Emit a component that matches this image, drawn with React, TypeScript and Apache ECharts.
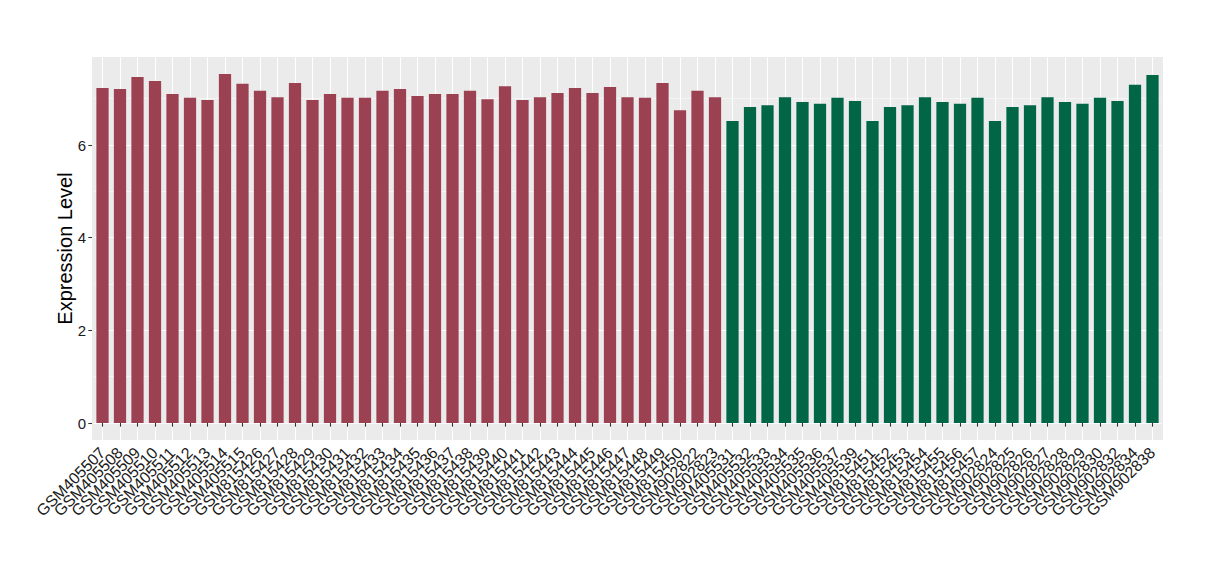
import React, { useEffect, useRef } from "react";
import * as echarts from "echarts";

const redSamples = [
  "GSM405507", "GSM405508", "GSM405509", "GSM405510", "GSM405511", "GSM405512",
  "GSM405513", "GSM405514", "GSM405515", "GSM815426", "GSM815427", "GSM815428",
  "GSM815429", "GSM815430", "GSM815431", "GSM815432", "GSM815433", "GSM815434",
  "GSM815435", "GSM815436", "GSM815437", "GSM815438", "GSM815439", "GSM815440",
  "GSM815441", "GSM815442", "GSM815443", "GSM815444", "GSM815445", "GSM815446",
  "GSM815447", "GSM815448", "GSM815449", "GSM815450", "GSM902822", "GSM902823",
];
const redValues = [
  7.23, 7.21, 7.47, 7.38, 7.10, 7.02, 6.97, 7.53, 7.32, 7.17, 7.03, 7.34,
  6.97, 7.10, 7.02, 7.02, 7.17, 7.21, 7.06, 7.10, 7.10, 7.17, 6.99, 7.27,
  6.97, 7.03, 7.12, 7.23, 7.12, 7.25, 7.03, 7.02, 7.34, 6.75, 7.17, 7.03,
];
const greenSamples = [
  "GSM405531", "GSM405532", "GSM405533", "GSM405534", "GSM405535", "GSM405536",
  "GSM405537", "GSM405539", "GSM815451", "GSM815452", "GSM815453", "GSM815454",
  "GSM815455", "GSM815456", "GSM815457", "GSM902824", "GSM902825", "GSM902826",
  "GSM902827", "GSM902828", "GSM902829", "GSM902830", "GSM902832", "GSM902834",
  "GSM902838",
];
const greenValues = [
  6.52, 6.82, 6.86, 7.03, 6.93, 6.89, 7.02, 6.95, 6.52, 6.82, 6.86, 7.03,
  6.93, 6.89, 7.02, 6.52, 6.82, 6.86, 7.03, 6.93, 6.89, 7.02, 6.95, 7.30,
  7.51,
];
const yTicks = [0, 2, 4, 6];
const yTitle = "Expression Level";

const RED = "#9B4151";
const GREEN = "#006645";
const PANEL = "#EBEBEB";
const FONT = "'Liberation Sans', Arial, Helvetica, sans-serif";

export default function App() {
  const ref = useRef<HTMLDivElement>(null);
  useEffect(() => {
    if (!ref.current) return;
    const chart = echarts.init(ref.current, null, { renderer: "svg" });
    const categories = [...redSamples, ...greenSamples];
    const data = [
      ...redValues.map((v) => ({ value: v, itemStyle: { color: RED } })),
      ...greenValues.map((v) => ({ value: v, itemStyle: { color: GREEN } })),
    ];
    const panelLeft = 92;
    const panelRight = 1163;
    const panelTop = 57;
    const panelBottom = 440;
    const zeroY = 423;
    const unit = (panelRight - panelLeft) / (categories.length - 1 + 1.2);
    const gridLeft = panelLeft + 0.1 * unit;
    const gridRight = panelRight - 0.1 * unit;
    const pxPerVal = (zeroY - 145) / 6;
    const yMax = 8;
    const gridTop = zeroY - yMax * pxPerVal;

    chart.setOption({
      animation: false,
      backgroundColor: "#ffffff",
      textStyle: { fontFamily: FONT },
      graphic: [
        {
          type: "rect",
          z: -10,
          silent: true,
          shape: { x: panelLeft, y: panelTop, width: panelRight - panelLeft, height: panelBottom - panelTop },
          style: { fill: PANEL },
        },
        {
          type: "rect",
          z: 100,
          silent: true,
          shape: { x: 70, y: 40, width: 1120, height: panelTop - 40 },
          style: { fill: "#ffffff" },
        },
        {
          type: "text",
          z: 100,
          silent: true,
          x: 65,
          y: (panelTop + panelBottom) / 2,
          rotation: Math.PI / 2,
          style: {
            text: yTitle,
            fill: "#000000",
            fontSize: 20,
            fontFamily: FONT,
            align: "center",
            verticalAlign: "middle",
          },
        },
      ],
      grid: {
        left: gridLeft,
        right: 1220 - gridRight,
        top: gridTop,
        bottom: 580 - zeroY,
        containLabel: false,
      },
      xAxis: [
        {
          type: "category",
          data: categories,
          boundaryGap: true,
          axisLine: { show: false },
          axisTick: {
            show: true,
            alignWithLabel: true,
            interval: 0,
            length: panelBottom - zeroY,
            lineStyle: { color: "#ffffff", width: 1.07 },
          },
          axisLabel: { show: false },
          splitLine: {
            show: true,
            alignWithLabel: true,
            interval: 0,
            lineStyle: { color: "#ffffff", width: 1.07 },
          },
        },
        {
          type: "category",
          data: categories,
          boundaryGap: true,
          position: "bottom",
          offset: panelBottom - zeroY,
          axisLine: { show: false },
          axisTick: {
            show: true,
            alignWithLabel: true,
            interval: 0,
            length: 3.7,
            lineStyle: { color: "#333333", width: 1.07 },
          },
          axisLabel: {
            show: true,
            interval: 0,
            rotate: 45,
            margin: 10,
            fontSize: 16,
            color: "#1a1a1a",
            fontFamily: FONT,
          },
          splitLine: { show: false },
        },
      ],
      yAxis: [
        {
          type: "value",
          min: 0,
          max: yMax,
          interval: 2,
          offset: gridLeft - panelLeft,
          axisLine: { show: false },
          axisTick: { show: true, length: 3.7, lineStyle: { color: "#333333", width: 1.07 } },
          axisLabel: {
            show: true,
            margin: 6,
            fontSize: 15,
            color: "#1a1a1a",
            fontFamily: FONT,
            formatter: (v: number) => (yTicks.includes(v) ? String(v) : ""),
          },
          splitLine: { show: true, lineStyle: { color: "#ffffff", width: 1.07 } },
        },
        {
          type: "value",
          min: 0,
          max: yMax,
          interval: 1,
          position: "left",
          axisLine: { show: false },
          axisTick: { show: false },
          axisLabel: { show: false },
          splitLine: { show: true, lineStyle: { color: "#ffffff", width: 0.53 } },
        },
      ],
      series: [
        {
          type: "bar",
          xAxisIndex: 0,
          yAxisIndex: 0,
          data,
          barCategoryGap: "30%",
        },
      ],
    });
    return () => chart.dispose();
  }, []);
  return <div ref={ref} style={{ width: 1220, height: 580, position: "absolute", left: 0, top: 0 }} />;
}
